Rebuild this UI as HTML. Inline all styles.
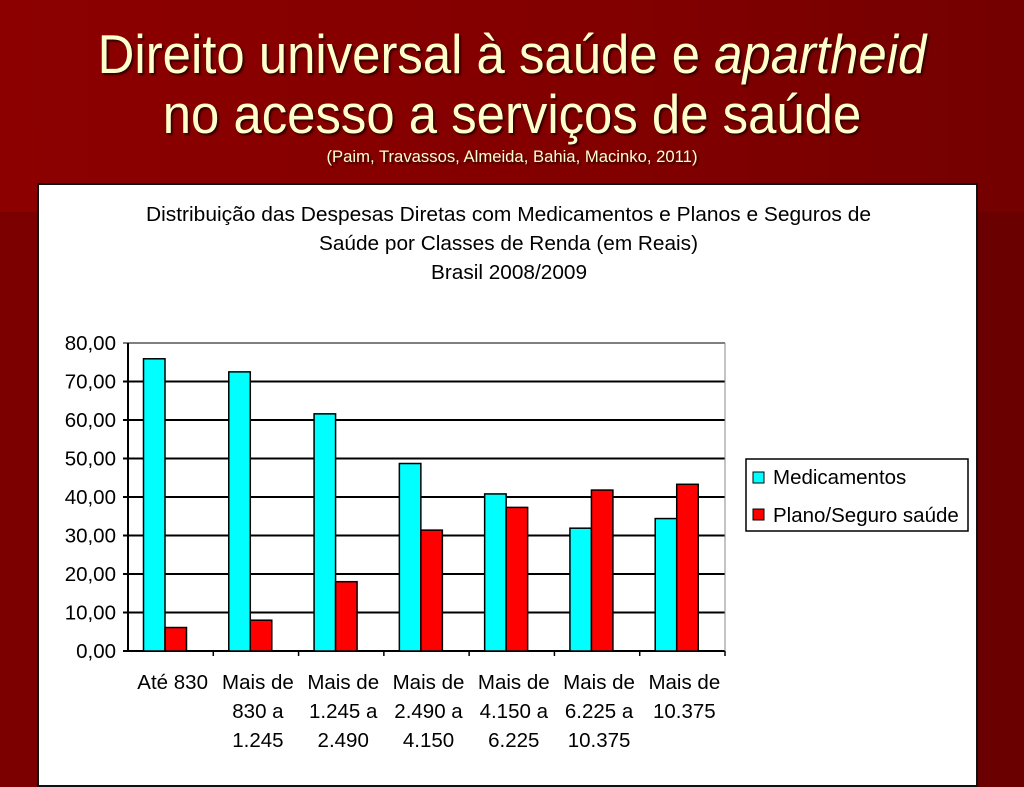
<!DOCTYPE html>
<html><head><meta charset="utf-8"><style>
body{margin:0;width:1024px;height:768px;overflow:hidden;position:relative;background:linear-gradient(90deg,#7d0000 0%,#760000 60%,#6a0000 100%);font-family:"Liberation Sans",sans-serif}
#top{position:absolute;left:0;top:0;width:1024px;height:212px;background:linear-gradient(90deg,#8c0000,#820000 60%,#740000)}
.t{position:absolute;left:0;width:1024px;text-align:center;color:#ffffcc;text-shadow:2px 2px 2px #300;white-space:nowrap}
#panel{position:absolute;left:37px;top:183px;width:937px;height:600px;background:#fff;border:2px solid #111}
</style></head><body>
<div id="top"></div>
<div class="t" style="top:22px;font-size:55px;transform:scaleX(0.925)">Direito universal à saúde e <i>apartheid</i></div>
<div class="t" style="top:82px;font-size:55px;transform:scaleX(0.925)">no acesso a serviços de saúde</div>
<div class="t" style="top:147px;font-size:17px;transform:scaleX(0.98)">(Paim, Travassos, Almeida, Bahia, Macinko, 2011)</div>
<div id="panel"></div>
<svg id="chart" width="1024" height="768" style="position:absolute;left:0;top:0" font-family="Liberation Sans, sans-serif">
<text x="146" y="221" font-size="20" textLength="725" lengthAdjust="spacingAndGlyphs">Distribuição das Despesas Diretas com Medicamentos e Planos e Seguros de</text>
<text x="319" y="250" font-size="20" textLength="379" lengthAdjust="spacingAndGlyphs">Saúde por Classes de Renda (em Reais)</text>
<text x="431" y="279" font-size="20" textLength="156" lengthAdjust="spacingAndGlyphs">Brasil 2008/2009</text>
<g id="plot"></g>
<g>
<rect x="746" y="459" width="222" height="72" fill="#fff" stroke="#000" stroke-width="1.5"/>
<rect x="753" y="472" width="11" height="11" fill="#00ffff" stroke="#000"/>
<text x="773" y="484" font-size="20.5">Medicamentos</text>
<rect x="753" y="509" width="11" height="11" fill="#ff0000" stroke="#000"/>
<text x="773" y="522" font-size="20.5">Plano/Seguro saúde</text>
</g>
</svg>
<script>
const categories=[["Até 830"],["Mais de","830 a","1.245"],["Mais de","1.245 a","2.490"],["Mais de","2.490 a","4.150"],["Mais de","4.150 a","6.225"],["Mais de","6.225 a","10.375"],["Mais de","10.375"]];
const medicamentos=[75.9,72.5,61.6,48.7,40.8,31.9,34.4];
const plano=[6.1,8.0,18.0,31.4,37.3,41.8,43.3];
const yTicks=[0,10,20,30,40,50,60,70,80];
const yTickLabels=["0,00","10,00","20,00","30,00","40,00","50,00","60,00","70,00","80,00"];
const NS="http://www.w3.org/2000/svg";
const g=document.getElementById('plot');
const x0=128,x1=725,yb=651,yt=343,ymax=80;
const y=v=>yb-(v/ymax)*(yb-yt);
const gw=(x1-x0)/categories.length;
function mk(t,a){const e=document.createElementNS(NS,t);for(const k in a)e.setAttribute(k,a[k]);g.appendChild(e);return e;}
yTicks.forEach((v,i)=>{
 const l=mk('line',{x1:x0-5,x2:x1,y1:y(v),y2:y(v),stroke:'#000','stroke-width':v===ymax?1:2});
 
 
 const t=mk('text',{x:x0-12,y:y(v)+7,'font-size':20.5,'text-anchor':'end'});t.textContent=yTickLabels[i];
 
 
});
mk('line',{x1:x0,x2:x0,y1:yt,y2:yb,stroke:'#000','stroke-width':2});
mk('line',{x1:x1,x2:x1,y1:yt,y2:yb,stroke:'#888','stroke-width':1});
const bw=21.5;
categories.forEach((c,i)=>{
 const gx=x0+i*gw;
 mk('line',{x1:gx+gw,x2:gx+gw,y1:yb,y2:yb+5,stroke:'#000','stroke-width':1.5});
 const b1=mk('rect',{x:gx+15.5,y:y(medicamentos[i]),width:bw,height:yb-y(medicamentos[i]),fill:'#00ffff',stroke:'#000','stroke-width':1.5});
 
 
 const b2=mk('rect',{x:gx+15.5+bw,y:y(plano[i]),width:bw,height:yb-y(plano[i]),fill:'#ff0000',stroke:'#000','stroke-width':1.5});
 
 
 c.forEach((s,j)=>{
  const t=mk('text',{x:gx+gw/2+2,y:689+j*29,'font-size':20.5,'text-anchor':'middle'});t.textContent=s;
  
  
 });
});
</script>
</body></html>
